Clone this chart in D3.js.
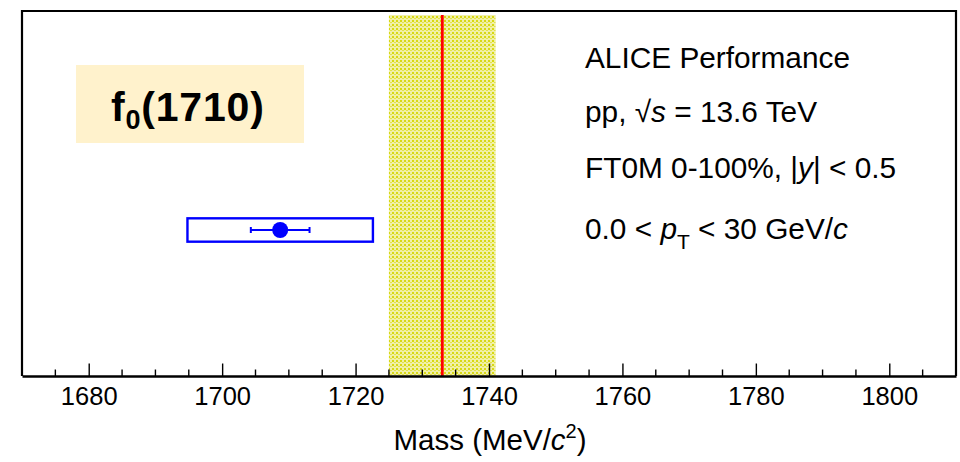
<!DOCTYPE html>
<html>
<head>
<meta charset="utf-8">
<script src="https://cdn.jsdelivr.net/npm/d3@7"></script>
<style>
  html, body { margin: 0; padding: 0; background: #fff; }
  svg { display: block; }
  text { font-family: "Liberation Sans", Arial, Helvetica, sans-serif; }
</style>
</head>
<body>
<svg id="chart" width="960" height="462"></svg>
<script>
// ---- data ----
const measMass = [1708.7];      // MeV/c^2 (measured point)
const measStat = [4.4];         // statistical error
const measSyst = [13.9];        // systematic error (box)
const measY = [0.4];            // vertical placement (arbitrary)
const pdgMass = [1733];         // reference (red line)
const pdgErr = [8];             // reference uncertainty (yellow band)
const xDomain = [1670, 1810];
const majorTicks = [1680, 1700, 1720, 1740, 1760, 1780, 1800];
const minorTicks = [1675,1685,1690,1695,1705,1710,1715,1725,1730,1735,1745,1750,1755,1765,1770,1775,1785,1790,1795,1805];
const infoLines = ["ALICE Performance", "pp, √s = 13.6 TeV", "FT0M 0-100%, |y| < 0.5", "0.0 < pT < 30 GeV/c"];

// ---- layout ----
const L = 22, R = 956, T = 11, B = 376;
const svg = d3.select("#chart");
const x = d3.scaleLinear().domain(xDomain).range([L, R]);
const y = d3.scaleLinear().domain([0, 1]).range([B, T]);

// pattern for band
const defs = svg.append("defs");
const pat = defs.append("pattern").attr("id", "dots").attr("patternUnits", "userSpaceOnUse")
  .attr("width", 4).attr("height", 4);
pat.append("rect").attr("width", 4).attr("height", 4).attr("fill", "#f0f0a8");
pat.append("rect").attr("x", 0).attr("y", 0).attr("width", 2).attr("height", 2).attr("fill", "#d8d814");
pat.append("rect").attr("x", 2).attr("y", 2).attr("width", 2).attr("height", 1).attr("fill", "#e2e24a");

// yellow band
const bandTop = 0.989;
svg.append("rect")
  .attr("x", x(pdgMass[0] - pdgErr[0]))
  .attr("width", x(pdgMass[0] + pdgErr[0]) - x(pdgMass[0] - pdgErr[0]))
  .attr("y", y(bandTop)).attr("height", y(0) - y(bandTop))
  .attr("fill", "url(#dots)");

// red line
svg.append("line")
  .attr("x1", x(pdgMass[0])).attr("x2", x(pdgMass[0]))
  .attr("y1", y(bandTop)).attr("y2", y(0))
  .attr("stroke", "#ff0000").attr("stroke-width", 2.8);

// frame (top, left, right)
svg.append("path")
  .attr("d", `M${L},${B} L${L},${T} L${R},${T} L${R},${B}`)
  .attr("fill", "none").attr("stroke", "#000").attr("stroke-width", 2.2);

// x axis
const ax = svg.append("g").attr("transform", `translate(0,${B})`)
  .call(d3.axisBottom(x).tickValues(majorTicks).tickSizeInner(-12.5).tickSizeOuter(0).tickPadding(20).tickFormat(d3.format("d")));
ax.select(".domain").attr("stroke", "#000").attr("stroke-width", 2.4);
ax.selectAll(".tick line").attr("stroke", "#000").attr("stroke-width", 1.4);
ax.selectAll(".tick text").attr("font-size", 25.5).attr("fill", "#000")
  .attr("font-family", "Liberation Sans, Arial, sans-serif").attr("dy", "0.71em").attr("y", 11);
svg.append("g").selectAll("line").data(minorTicks).join("line")
  .attr("x1", d => x(d)).attr("x2", d => x(d))
  .attr("y1", B).attr("y2", B - 6.5)
  .attr("stroke", "#000").attr("stroke-width", 1.4);

// axis title
const xt = svg.append("text").attr("x", (L + R) / 2 + 1).attr("y", 450)
  .attr("text-anchor", "middle").attr("font-size", 29.5).attr("fill", "#000");
xt.append("tspan").text("Mass (MeV/");
xt.append("tspan").attr("font-style", "italic").text("c");
xt.append("tspan").attr("font-size", 20).attr("dy", -12).text("2");
xt.append("tspan").attr("dy", 12).text(")");

// systematic box
const bx = svg.append("g");
bx.selectAll("rect").data(measMass).join("rect")
  .attr("x", (d, i) => x(d - measSyst[i]))
  .attr("width", (d, i) => x(d + measSyst[i]) - x(d - measSyst[i]))
  .attr("y", (d, i) => y(measY[i] + 0.032))
  .attr("height", (d, i) => y(measY[i] - 0.032) - y(measY[i] + 0.032))
  .attr("fill", "none").attr("stroke", "#0000ff").attr("stroke-width", 2.4);
// stat error bar
bx.selectAll("line.err").data(measMass).join("line").attr("class", "err")
  .attr("x1", (d, i) => x(d - measStat[i])).attr("x2", (d, i) => x(d + measStat[i]))
  .attr("y1", (d, i) => y(measY[i])).attr("y2", (d, i) => y(measY[i]))
  .attr("stroke", "#0000ff").attr("stroke-width", 2);
[-1, 1].forEach(s => {
  bx.selectAll(null).data(measMass).join("line")
    .attr("x1", (d, i) => x(d + s * measStat[i])).attr("x2", (d, i) => x(d + s * measStat[i]))
    .attr("y1", (d, i) => y(measY[i]) - 3).attr("y2", (d, i) => y(measY[i]) + 3)
    .attr("stroke", "#0000ff").attr("stroke-width", 2);
});
bx.selectAll("circle").data(measMass).join("circle")
  .attr("cx", d => x(d)).attr("cy", (d, i) => y(measY[i])).attr("r", 8)
  .attr("fill", "#0000ff");

// label box
svg.append("rect").attr("x", 76).attr("y", 65).attr("width", 228).attr("height", 78)
  .attr("fill", "#fff2cc");
const lb = svg.append("text").attr("x", 111).attr("y", 121)
  .attr("font-size", 41).attr("font-weight", "bold").attr("fill", "#000")
  .attr("letter-spacing", 0.8)
  .attr("font-family", "Liberation Sans, Arial, sans-serif");
lb.append("tspan").text("f");
lb.append("tspan").attr("font-size", 27).attr("dy", 8).text("0");
lb.append("tspan").attr("dy", -8).text("(1710)");

// info text
const ix = 585;
const baselines = [68, 122, 178, 239];
const fs = 29.8;
svg.append("text").attr("x", ix).attr("y", baselines[0]).attr("font-size", fs).text(infoLines[0]);
const t2 = svg.append("text").attr("x", ix).attr("y", baselines[1]).attr("font-size", fs);
t2.append("tspan").text("pp, √");
t2.append("tspan").attr("font-style", "italic").text("s");
t2.append("tspan").text(" = 13.6 TeV");
const t3 = svg.append("text").attr("x", ix).attr("y", baselines[2]).attr("font-size", fs);
t3.append("tspan").text("FT0M 0-100%, |");
t3.append("tspan").attr("font-style", "italic").text("y");
t3.append("tspan").text("| < 0.5");
const t4 = svg.append("text").attr("x", ix).attr("y", baselines[3]).attr("font-size", fs);
t4.append("tspan").text("0.0 < ");
t4.append("tspan").attr("font-style", "italic").text("p");
t4.append("tspan").attr("font-size", 21).attr("dy", 10).text("T");
t4.append("tspan").attr("dy", -10).text(" < 30 GeV/");
t4.append("tspan").attr("font-style", "italic").text("c");
</script>
</body>
</html>
